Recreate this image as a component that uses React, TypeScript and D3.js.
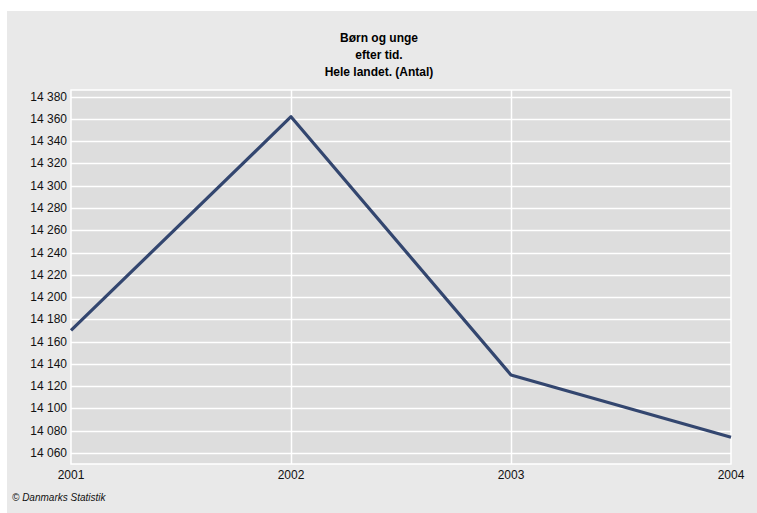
import React from "react";
import * as d3 from "d3";

const years = ["2001", "2002", "2003", "2004"];
const values = [14170, 14362, 14130, 14074];
const yTicks = [14060, 14080, 14100, 14120, 14140, 14160, 14180, 14200, 14220, 14240, 14260, 14280, 14300, 14320, 14340, 14360, 14380];
const titleLines = ["Børn og unge", "efter tid.", "Hele landet. (Antal)"];

const width = 757;
const height = 513;
const plot = { left: 71, right: 731, top: 90, bottom: 464 };

export default function App() {
  const x = d3.scalePoint<string>().domain(years).range([plot.left, plot.right]);
  const y = d3.scaleLinear().domain([14050, 14386]).range([plot.bottom, plot.top]);

  const line = d3
    .line<number>()
    .x((d, i) => x(years[i]) as number)
    .y((d) => y(d));

  const font = "'Liberation Sans', Arial, sans-serif";

  return (
    <svg
      width={width}
      height={height}
      style={{ position: "absolute", left: 0, top: 0, fontFamily: font }}
    >
      <rect x={0} y={0} width={width} height={height} fill="#ffffff" />
      <rect x={7} y={11} width={width - 7} height={height - 11} fill="#e9e9e9" />

      {/* title */}
      {titleLines.map((t, i) => (
        <text
          key={t}
          x={379}
          y={42 + i * 17}
          textAnchor="middle"
          fontSize={12}
          fontWeight="bold"
          fill="#000"
        >
          {t}
        </text>
      ))}

      {/* plot area */}
      <rect
        x={plot.left}
        y={plot.top}
        width={plot.right - plot.left}
        height={plot.bottom - plot.top}
        fill="#dddddd"
        stroke="#ffffff"
        strokeWidth={1.5}
      />

      {/* horizontal gridlines + y labels */}
      {yTicks.map((t) => (
        <g key={t}>
          <line
            x1={plot.left}
            x2={plot.right}
            y1={Math.round(y(t)) + 0.5}
            y2={Math.round(y(t)) + 0.5}
            stroke="#ffffff"
            strokeWidth={1.5}
          />
          <text
            x={67}
            y={y(t) + 4}
            textAnchor="end"
            fontSize={12}
            fill="#111"
          >
            {d3.format(",")(t).replace(",", " ")}
          </text>
        </g>
      ))}

      {/* vertical gridlines + x labels */}
      {years.map((yr) => (
        <g key={yr}>
          {yr !== years[0] && yr !== years[years.length - 1] && (
            <line
              x1={Math.round(x(yr) as number) + 0.5}
              x2={Math.round(x(yr) as number) + 0.5}
              y1={plot.top}
              y2={plot.bottom}
              stroke="#ffffff"
              strokeWidth={1.5}
            />
          )}
          <text
            x={x(yr) as number}
            y={479}
            textAnchor="middle"
            fontSize={12}
            fill="#111"
          >
            {yr}
          </text>
        </g>
      ))}

      {/* data line */}
      <path
        d={line(values) || ""}
        fill="none"
        stroke="#33466f"
        strokeWidth={3.2}
        strokeLinejoin="round"
      />

      <text x={12} y={501} fontSize={10} fontStyle="italic" fill="#111">
        © Danmarks Statistik
      </text>
    </svg>
  );
}
